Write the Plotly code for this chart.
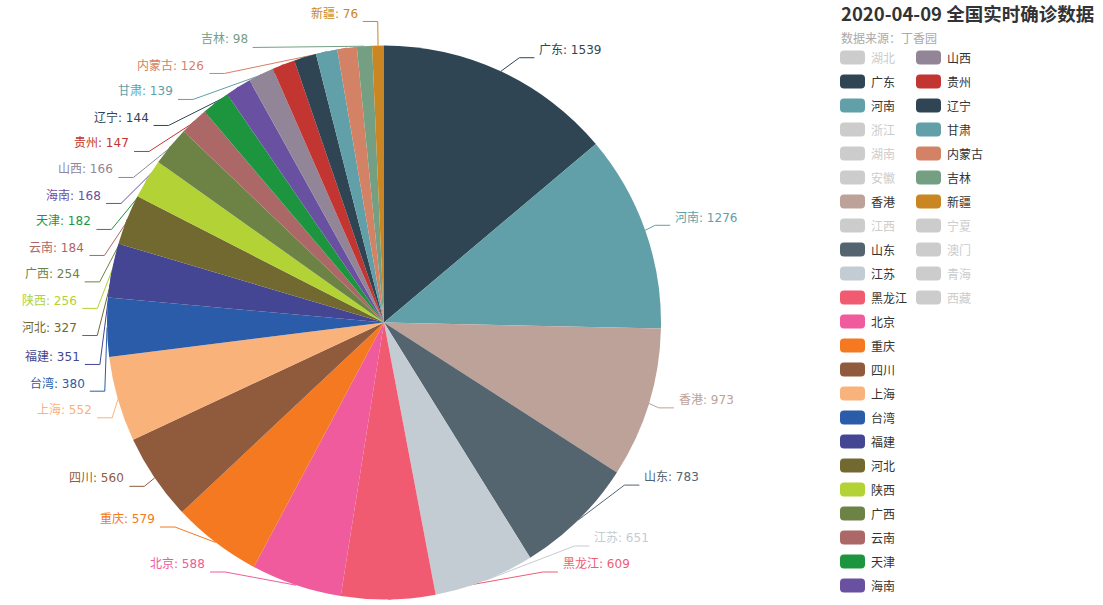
import math
import plotly.graph_objects as go

# ---------------- data ----------------
title_text = "2020-04-09 全国实时确诊数据"
subtitle_text = "数据来源：丁香园"

# legend order (data order of the original series)
legend_names = ["湖北", "广东", "河南", "浙江", "湖南", "安徽", "香港", "江西", "山东", "江苏",
                "黑龙江", "北京", "重庆", "四川", "上海", "台湾", "福建", "河北", "陕西", "广西",
                "云南", "天津", "海南", "山西", "贵州", "辽宁", "甘肃", "内蒙古", "吉林", "新疆",
                "宁夏", "澳门", "青海", "西藏"]
# legend entries switched off (not drawn in the pie)
hidden_names = ["湖北", "浙江", "湖南", "安徽", "江西", "宁夏", "澳门", "青海", "西藏"]

# visible slices
pie_labels = ["广东", "河南", "香港", "山东", "江苏", "黑龙江", "北京", "重庆", "四川", "上海",
              "台湾", "福建", "河北", "陕西", "广西", "云南", "天津", "海南", "山西", "贵州",
              "辽宁", "甘肃", "内蒙古", "吉林", "新疆"]
pie_values = [1539, 1276, 973, 783, 651, 609, 588, 579, 560, 552,
              380, 351, 327, 256, 254, 184, 182, 168, 166, 147,
              144, 139, 126, 98, 76]

palette = ["#c23531", "#2f4554", "#61a0a8", "#d48265", "#749f83", "#ca8622", "#bda29a",
           "#6e7074", "#546570", "#c4ccd3", "#f05b72", "#ef5b9c", "#f47920", "#905a3d",
           "#fab27b", "#2a5caa", "#444693", "#726930", "#b2d235", "#6d8346", "#ac6767",
           "#1d953f", "#6950a1", "#918597"]

# ---------------- layout constants ----------------
W, H = 1103, 605
CX, CY, R = 384, 322.5, 277
LEN1, LEN2, LABEL_DIST = 15, 15, 5
LABEL_H = 26.0
VIEW_H = 598
TEXT_DY = -8
FONT = "DejaVu Sans, Noto Sans CJK SC, sans-serif"
CJK_FONT = "Noto Sans CJK SC, sans-serif"
INACTIVE = "#cccccc"

color_of = {n: palette[i % len(palette)] for i, n in enumerate(legend_names)}

# ---------------- label layout (echarts-like) ----------------
order = sorted(range(len(pie_values)), key=lambda i: -pie_values[i])
total = float(sum(pie_values))
items = []
cum = 0.0
for i in order:
    v = pie_values[i]
    mid = (cum + v / 2.0) / total * 2 * math.pi
    cum += v
    dx, dy = math.sin(mid), -math.cos(mid)
    x1, y1 = CX + R * dx, CY + R * dy
    x2, y2 = x1 + LEN1 * dx, y1 + LEN1 * dy
    s = -1 if dx < 0 else 1
    x3 = x2 + s * LEN2
    items.append(dict(name=pie_labels[i], value=v, color=color_of[pie_labels[i]],
                      x=x3 + s * LABEL_DIST, y=y2, p1=(x1, y1)))


def adjust_side(lst, d):
    lst.sort(key=lambda a: a["y"])
    n = len(lst)

    def shift_up(end, delta):
        for j in range(end, -1, -1):
            lst[j]["y"] -= delta
            if j > 0 and lst[j]["y"] > lst[j - 1]["y"] + LABEL_H:
                break

    def shift_down(start, end, delta):
        for j in range(start, end):
            lst[j]["y"] += delta
            if j > start and j + 1 < end and lst[j + 1]["y"] > lst[j]["y"] + LABEL_H:
                shift_up(j, delta / 2.0)
                return
        shift_up(end - 1, delta / 2.0)

    last_y = 0
    for i in range(n):
        delta = lst[i]["y"] - last_y
        if delta < 0:
            shift_down(i, n, -delta)
        last_y = lst[i]["y"] + LABEL_H
    if VIEW_H - last_y < 0:
        shift_up(n - 1, last_y - VIEW_H)

    def change_x(sub, is_down):
        last = float("inf") if is_down else 0.0
        for a in sub:
            ddy = abs(a["y"] - CY)
            if ddy < R + LEN1:
                ddx = math.sqrt((R + LEN1 + LEN2) ** 2 - ddy ** 2)
            else:
                ddx = abs(a["x"] - CX)
            if is_down and ddx >= last:
                ddx = last - 10
            if (not is_down) and ddx <= last:
                ddx = last + 10
            a["x"] = CX + ddx * d
            last = ddx

    change_x([a for a in lst if a["y"] < CY], False)
    change_x([a for a in lst if a["y"] >= CY], True)


left = [a for a in items if a["x"] < CX]
right = [a for a in items if a["x"] >= CX]
adjust_side(right, 1)
adjust_side(left, -1)

# ---------------- figure ----------------
fig = go.Figure()

fig.add_trace(go.Pie(
    labels=pie_labels, values=pie_values,
    marker=dict(colors=[color_of[n] for n in pie_labels], line=dict(width=0)),
    sort=True, direction="clockwise", rotation=0,
    textinfo="none", hoverinfo="label+value+percent",
    showlegend=False,
    domain=dict(x=[(CX - R) / W, (CX + R) / W], y=[1 - (CY + R) / H, 1 - (CY - R) / H]),
))

annotations = []
for a in items:
    d = -1 if a["x"] < CX else 1
    x3 = a["x"] - d * LABEL_DIST
    x2 = x3 - d * LEN2
    fig.add_trace(go.Scatter(
        x=[a["p1"][0], x2, x3], y=[a["p1"][1], a["y"], a["y"]],
        mode="lines", line=dict(color=a["color"], width=1),
        hoverinfo="skip", showlegend=False, cliponaxis=False))
    annotations.append(dict(
        x=a["x"] - d, y=a["y"] + TEXT_DY, xref="x", yref="y",
        xanchor="left" if d > 0 else "right", yanchor="middle",
        text=f"{a['name']}: {a['value']}", showarrow=False, borderpad=0,
        font=dict(family=FONT, size=12, color=a["color"])))

# title
annotations.append(dict(x=840, y=13, xref="x", yref="y", xanchor="left", yanchor="middle",
                        text=f"<b>{title_text}</b>", showarrow=False, borderpad=0,
                        font=dict(family=CJK_FONT, size=18.5, color="#333333")))
annotations.append(dict(x=840, y=37, xref="x", yref="y", xanchor="left", yanchor="middle",
                        text=subtitle_text, showarrow=False, borderpad=0,
                        font=dict(family=CJK_FONT, size=12, color="#aaaaaa")))

# legend (two columns)
LEG_X0, LEG_COL_W, LEG_Y0, LEG_ROW_H, LEG_ROWS = 840, 76, 57.5, 24, 23
SW_W, SW_H, SW_R = 25, 14, 4


def rrect(x0, y0, w, h, r):
    return (f"M{x0 + r},{y0} L{x0 + w - r},{y0} Q{x0 + w},{y0} {x0 + w},{y0 + r} "
            f"L{x0 + w},{y0 + h - r} Q{x0 + w},{y0 + h} {x0 + w - r},{y0 + h} "
            f"L{x0 + r},{y0 + h} Q{x0},{y0 + h} {x0},{y0 + h - r} "
            f"L{x0},{y0 + r} Q{x0},{y0} {x0 + r},{y0} Z")


shapes = []
for k, name in enumerate(legend_names):
    col, row = divmod(k, LEG_ROWS)
    lx = LEG_X0 + col * LEG_COL_W
    ly = LEG_Y0 + row * LEG_ROW_H
    active = name not in hidden_names
    c = color_of[name] if active else INACTIVE
    shapes.append(dict(type="path", xref="x", yref="y",
                       path=rrect(lx, ly - SW_H / 2, SW_W, SW_H, SW_R),
                       fillcolor=c, line=dict(width=0), layer="above"))
    annotations.append(dict(x=lx + SW_W + 5, y=ly, xref="x", yref="y",
                            xanchor="left", yanchor="middle", text=name,
                            showarrow=False, borderpad=0,
                            font=dict(family=CJK_FONT, size=12,
                                      color="#333333" if active else INACTIVE)))

fig.update_layout(
    width=W, height=H, margin=dict(l=0, r=0, t=0, b=0),
    paper_bgcolor="white", plot_bgcolor="white", showlegend=False,
    xaxis=dict(range=[0, W], visible=False, fixedrange=True, domain=[0, 1]),
    yaxis=dict(range=[H, 0], visible=False, fixedrange=True, domain=[0, 1]),
    annotations=annotations, shapes=shapes,
    font=dict(family=FONT),
)

fig.write_html("out.html", config={"displayModeBar": False},
               post_script="document.body.style.margin='0';document.body.style.overflow='hidden';")
